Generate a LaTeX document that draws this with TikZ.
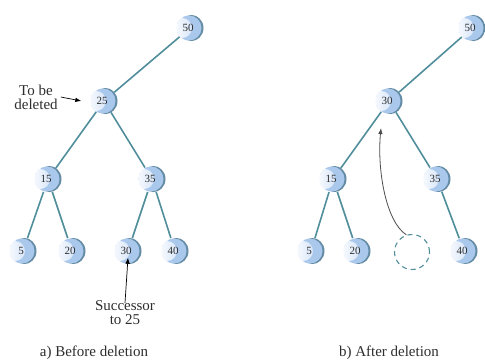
\documentclass[tikz,border=0pt]{standalone}
\usepackage{fontspec}
\setmainfont{Liberation Serif}
\usetikzlibrary{arrows.meta,backgrounds}
\definecolor{rim}{RGB}{100,140,165}
\definecolor{ballblue}{RGB}{170,200,236}
\definecolor{balllight}{RGB}{215,229,249}
\definecolor{edgecol}{RGB}{80,142,155}
\definecolor{txt}{RGB}{45,45,45}
\begin{document}
\begin{tikzpicture}[x=1pt,y=-1pt,
  ball/.style={circle,minimum size=27pt,inner sep=0pt,
    font=\fontsize{11}{12}\selectfont,text=txt,
    path picture={
      \fill[white] (path picture bounding box.south west) rectangle (path picture bounding box.north east);
      \fill[rim] ([xshift=1.5pt]path picture bounding box.center) circle[radius=13pt];
      \fill[ballblue] ([xshift=-1pt]path picture bounding box.center) circle[radius=12.5pt];
      \shade[left color=white,right color=balllight] ([xshift=-8pt]path picture bounding box.center) circle[radius=10pt];
    }},
  gap/.style={circle,minimum size=35pt,inner sep=0pt,draw=edgecol,dash pattern=on 5pt off 4pt,line width=1.1pt},
  edge/.style={draw=edgecol,line width=1.6pt},
  arr/.style={draw=black,line width=0.7pt,-{Latex[length=6pt,width=4.5pt]}},
  carr/.style={draw=black!70,line width=0.8pt,-{Latex[length=6pt,width=4.5pt]}},
  caption/.style={font=\fontsize{15}{14}\selectfont,text=txt,align=center,inner sep=0pt}
]
\useasboundingbox (0,0) rectangle (485,360);
% left tree
\node[ball] (L50) at (190,28) {\hspace*{-4pt}50};
\node[ball] (L25) at (104,101) {\hspace*{-4pt}25};
\node[ball] (L15) at (48,179) {\hspace*{-4pt}15};
\node[ball] (L35) at (152,179) {\hspace*{-4pt}35};
\node[ball] (L5) at (23,251) {\hspace*{-4pt}5};
\node[ball] (L20) at (72,251) {\hspace*{-4pt}20};
\node[ball] (L30) at (128,251) {\hspace*{-4pt}30};
\node[ball] (L40) at (175,251) {\hspace*{-4pt}40};
% right tree
\node[ball] (R50) at (472,28) {\hspace*{-4pt}50};
\node[ball] (R30) at (389,101) {\hspace*{-4pt}30};
\node[ball] (R15) at (333,179) {\hspace*{-4pt}15};
\node[ball] (R35) at (437,179) {\hspace*{-4pt}35};
\node[ball] (R5) at (311,251) {\hspace*{-4pt}5};
\node[ball] (R20) at (357,251) {\hspace*{-4pt}20};
\node[gap] (Rgap) at (412,252) {};
\node[ball] (R40) at (464,251) {\hspace*{-4pt}40};
\begin{scope}[on background layer]
\draw[edge] (L50.center) -- (L25.center);
\draw[edge] (L25.center) -- (L15.center);
\draw[edge] (L25.center) -- (L35.center);
\draw[edge] (L15.center) -- (L5.center);
\draw[edge] (L15.center) -- (L20.center);
\draw[edge] (L35.center) -- (L30.center);
\draw[edge] (L35.center) -- (L40.center);
\draw[edge] (R50.center) -- (R30.center);
\draw[edge] (R30.center) -- (R15.center);
\draw[edge] (R30.center) -- (R35.center);
\draw[edge] (R15.center) -- (R5.center);
\draw[edge] (R15.center) -- (R20.center);
\draw[edge] (R35.center) -- (R40.center);
\end{scope}
% labels
\node[caption] (tobe) at (36,97) {To be\\deleted};
\draw[arr] ([xshift=3pt]tobe.east) -- ([xshift=-9pt]L25.west);
\node[caption] (succ) at (125,313) {Successor\\to 25};
\draw[arr] ([yshift=-2pt]succ.north) -- ([yshift=7pt]L30.south);
\coordinate (ctip) at (381,128);
\draw[carr] (Rgap.108) .. controls (386,222) and (377,170) .. (ctip);
\node[caption] (capa) at (94,353) {a) Before deletion};
\node[caption] (capb) at (389,353) {b) After deletion};
\end{tikzpicture}
\end{document}
